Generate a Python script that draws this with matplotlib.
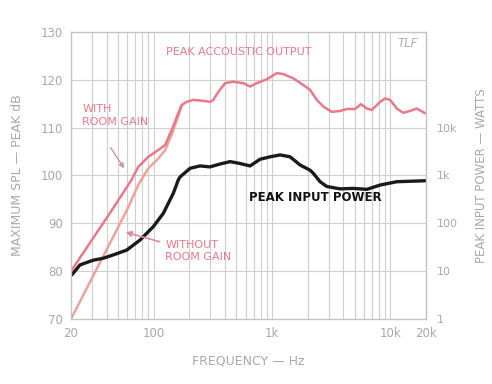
import numpy as np
import matplotlib
matplotlib.use("Agg")
import matplotlib.pyplot as plt

# peak acoustic output with room gain (Hz, dB)
with_freq = [20, 30, 45, 65, 74, 90, 109, 125, 142, 157, 172, 190, 216, 262, 299, 319, 352,
             401, 471, 572, 652, 743, 902, 1096, 1247, 1514, 1840, 2096, 2389, 2718, 3200,
             3758, 4285, 5036, 5624, 6325, 6970, 8190, 9020, 9950, 11330, 12890, 14680,
             16720, 19650]
with_db = [80.0, 86.5, 93.0, 99.1, 101.8, 103.9, 105.3, 106.4, 109.5, 112.3, 114.7, 115.4,
           115.8, 115.6, 115.4, 115.8, 117.5, 119.3, 119.6, 119.3, 118.6, 119.3, 120.1,
           121.4, 121.2, 120.3, 118.9, 117.9, 115.8, 114.4, 113.3, 113.5, 113.9, 113.9,
           114.9, 114.0, 113.7, 115.4, 116.1, 115.8, 114.0, 113.1, 113.5, 114.0, 113.0]

# without room gain (low end only, merges above)
without_freq = [20, 40, 60, 74, 90, 109, 125, 142, 157, 172]
without_db = [70.0, 84.5, 93.0, 98.0, 101.5, 103.5, 105.3, 108.6, 111.6, 114.5]

# peak input power, expressed on the dB scale (1 W = 70 dB)
power_freq = [20.3, 23.8, 30.9, 37.5, 45.6, 59.1, 76.6, 99.2, 120.6, 146.5, 161.5, 167, 203,
              246, 299, 364, 442, 537, 652, 793, 962, 1169, 1420, 1725, 2096, 2223, 2547,
              2899, 3758, 4866, 6325, 8190, 11330, 19650]
power_db = [79.2, 81.3, 82.3, 82.7, 83.4, 84.4, 86.5, 89.3, 92.1, 96.3, 99.1, 99.7, 101.5,
            102.0, 101.8, 102.4, 102.9, 102.5, 102.0, 103.4, 103.9, 104.3, 103.9, 102.2,
            101.1, 100.5, 98.7, 97.7, 97.2, 97.3, 97.1, 98.0, 98.7, 98.9]

x_ticks = [20, 100, 1000, 10000, 20000]
x_labels = ["20", "100", "1k", "10k", "20k"]
y_ticks = [70, 80, 90, 100, 110, 120, 130]
w_ticks = [1, 10, 100, 1000, 10000]
w_labels = ["1", "10", "100", "1k", "10k"]

txt = "#a8a8a8"
grid_c = "#cfcfcf"
pink = "#e8798a"
pink2 = "#eea29c"

fig = plt.figure(figsize=(4.92, 3.84), dpi=100)
ax = fig.add_axes([0.1443, 0.1693, 0.7216, 0.7474])
ax.set_xscale("log")
ax.set_xlim(20, 20000)
ax.set_ylim(70, 130)
ax.set_xticks(x_ticks)
ax.set_xticklabels(x_labels)
ax.set_yticks(y_ticks)
ax.xaxis.set_minor_formatter(matplotlib.ticker.NullFormatter())
ax.grid(True, which="both", axis="x", color=grid_c, lw=0.8)
ax.grid(True, which="major", axis="y", color=grid_c, lw=0.8)
ax.tick_params(which="both", length=0, colors=txt, labelsize=8.5, pad=6)
for s in ax.spines.values():
  s.set_color("#c4c4c4")
  s.set_linewidth(1.0)

ax.plot(without_freq, without_db, color=pink2, lw=1.8, solid_capstyle="round")
ax.plot(with_freq, with_db, color=pink, lw=1.8, solid_capstyle="round")
ax.plot(power_freq, power_db, color="#1a1a1a", lw=2.4, solid_capstyle="round")

ax2 = ax.twinx()
ax2.set_yscale("log")
ax2.set_ylim(1, 1e6)
ax2.set_yticks(w_ticks)
ax2.set_yticklabels(w_labels)
ax2.yaxis.set_minor_locator(matplotlib.ticker.NullLocator())
ax2.tick_params(length=0, colors=txt, labelsize=8, pad=8)
for s in ax2.spines.values():
  s.set_visible(False)

ax.set_xlabel("FREQUENCY — Hz", color=txt, fontsize=9, labelpad=10)
ax.set_ylabel("MAXIMUM SPL — PEAK dB", color=txt, fontsize=9, labelpad=12)
ax2.set_ylabel("PEAK INPUT POWER — WATTS", color=txt, fontsize=8.5, labelpad=12)

ax.text(520, 125.8, "PEAK ACCOUSTIC OUTPUT", color=pink, fontsize=8, ha="center", va="center")
ax.text(25, 112.5, "WITH\nROOM GAIN", color=pink, fontsize=8, ha="left", va="center", linespacing=1.3)
ax.annotate("", xy=(58, 101.0), xytext=(42, 106.3),
            arrowprops=dict(arrowstyle="-|>", color="#c89898", lw=1.0, mutation_scale=7))
ax.text(125, 84.2, "WITHOUT\nROOM GAIN", color=pink, fontsize=8, ha="left", va="center", linespacing=1.3)
ax.annotate("", xy=(55, 88.3), xytext=(118, 86.0),
            arrowprops=dict(arrowstyle="-|>", color="#e58a98", lw=1.2, mutation_scale=8))
ax.text(2300, 95.5, "PEAK INPUT POWER", color="#111111", fontsize=8.5, fontweight="bold",
        ha="center", va="center")
ax.text(14000, 127.6, "TLF", color="#b0b0b0", fontsize=8.5, style="italic", ha="center", va="center")

fig.savefig("out.png", dpi=100)
